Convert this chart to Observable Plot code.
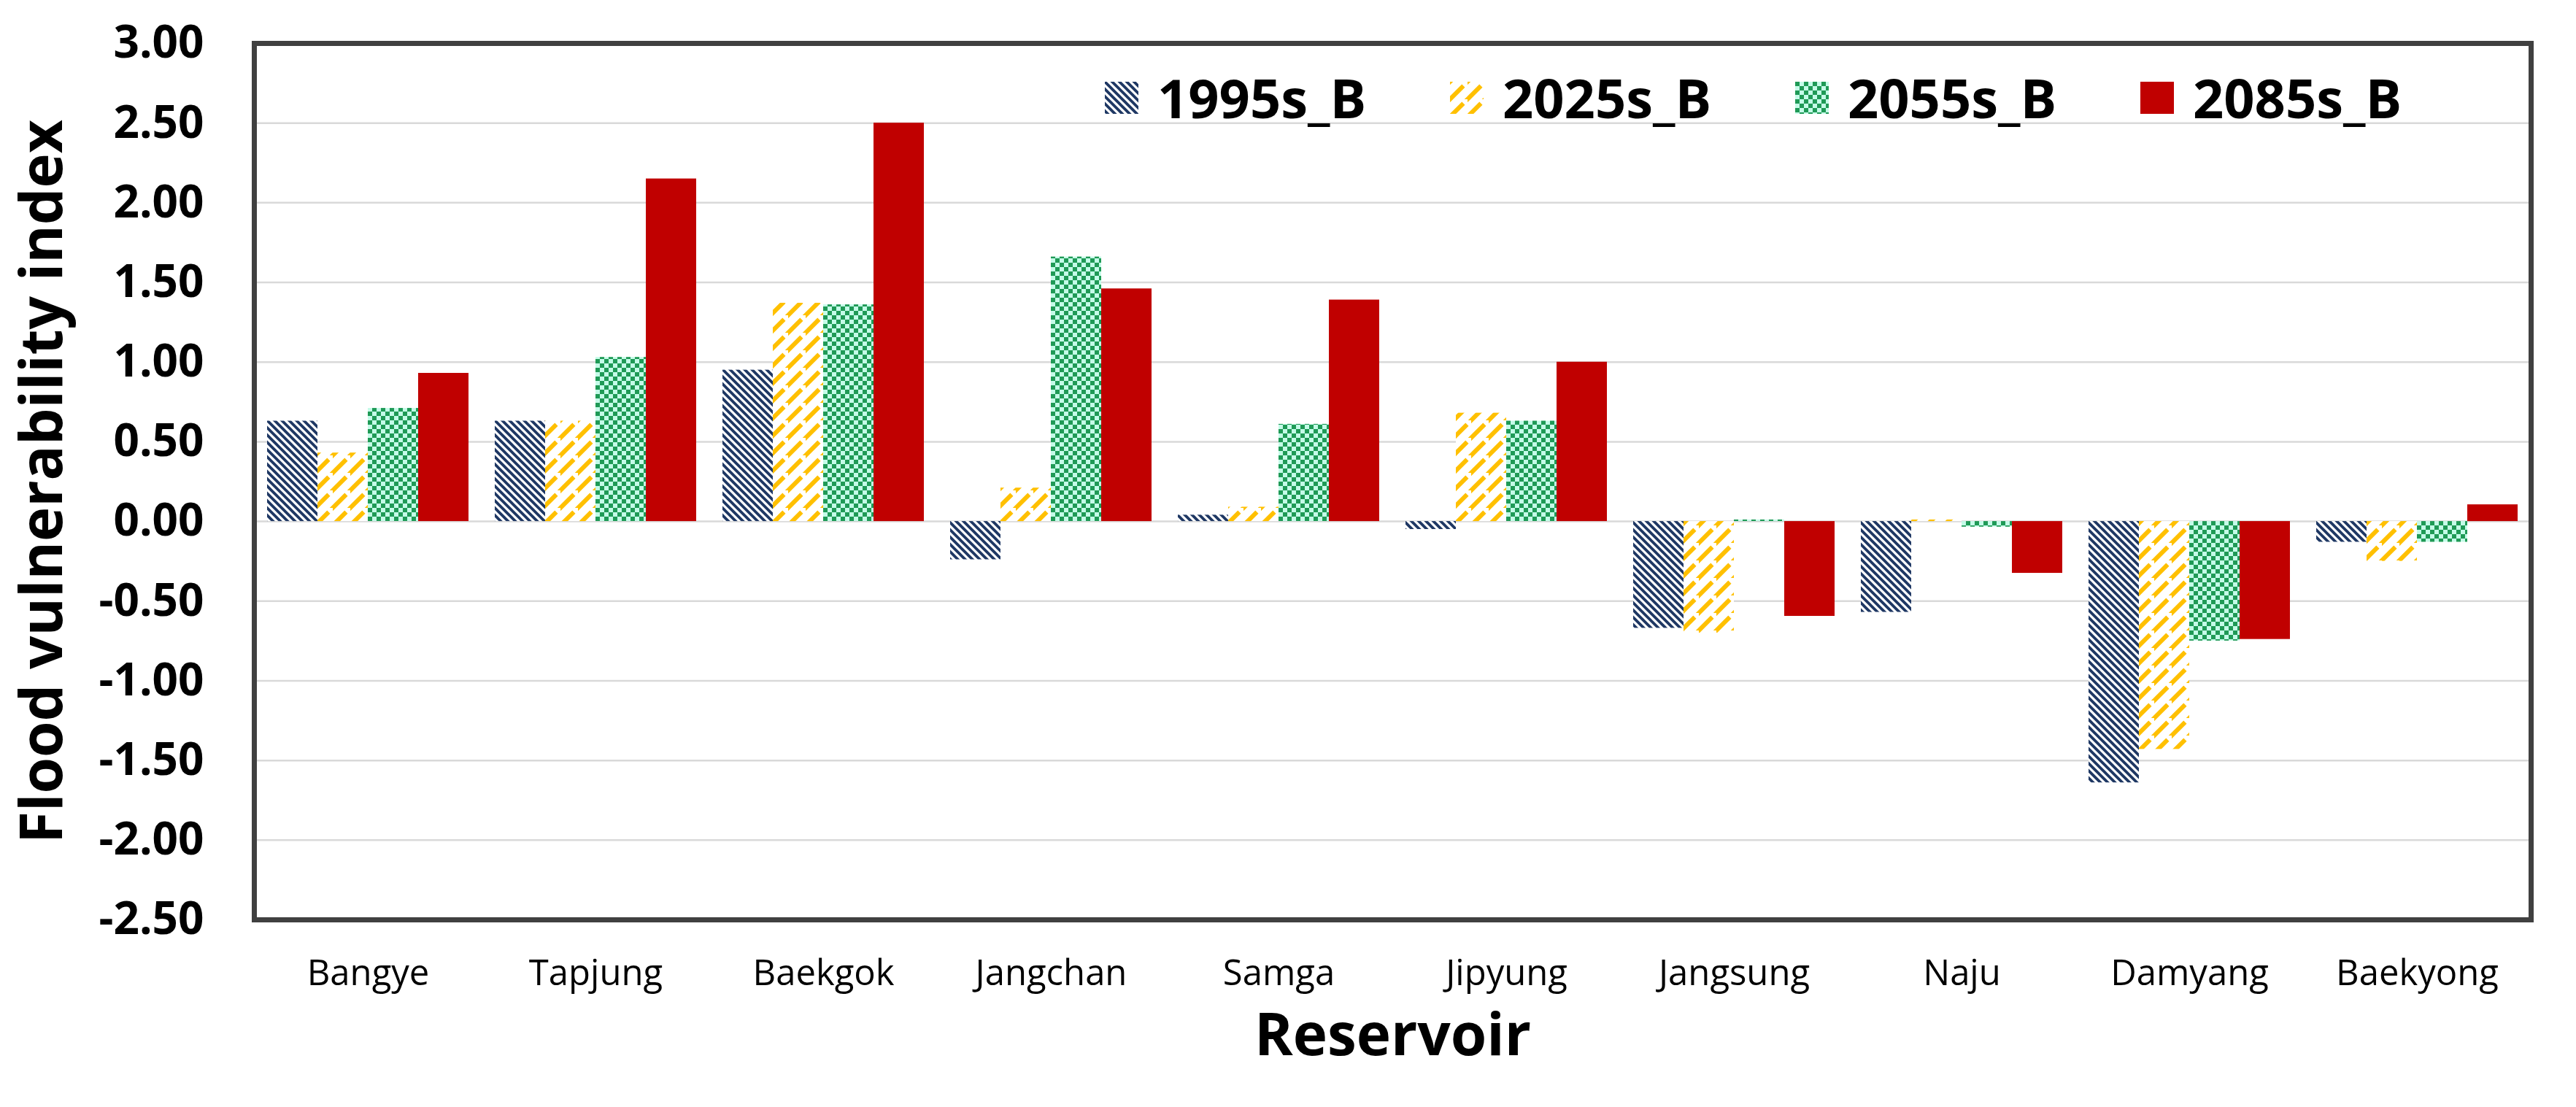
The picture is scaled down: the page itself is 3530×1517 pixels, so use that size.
<!DOCTYPE html>
<html><head><meta charset="utf-8">
<script src="https://cdn.jsdelivr.net/npm/d3@7"></script>
<script src="https://cdn.jsdelivr.net/npm/@observablehq/plot@0.6"></script>
<style>
html,body{margin:0;padding:0;background:#fff;}
#chart{position:relative;width:3530px;height:1517px;font-family:"Open Sans",sans-serif;}
#chart > svg{position:absolute;left:0;top:0;}
#legend{position:absolute;left:1514px;top:100px;display:flex;}
.item{width:473px;display:flex;align-items:center;height:68px;}
.item svg{width:46px;height:44px;margin-right:26px;flex:none;}
.item span{font-weight:700;font-size:74px;line-height:1;color:#000;}
</style></head><body>
<svg width="0" height="0" style="position:absolute">
  <defs>
    <pattern id="p1995" patternUnits="userSpaceOnUse" width="10" height="10">
      <rect width="10" height="10" fill="#ffffff"/>
      <path d="M0,0L10,10M-5,5L5,15M5,-5L15,5" stroke="#1f3864" stroke-width="3.8" fill="none"/>
    </pattern>
    <pattern id="p2025" patternUnits="userSpaceOnUse" width="24" height="24">
      <rect width="24" height="24" fill="#ffffff"/>
      <path d="M0,24L24,0M-6,6L6,-6M18,30L30,18" stroke="#ffc000" stroke-width="6" stroke-dasharray="26 8" fill="none"/>
    </pattern>
    <pattern id="p2055" patternUnits="userSpaceOnUse" width="12" height="12">
      <rect width="12" height="12" fill="#c4fbe8"/>
      <rect x="0" y="0" width="6" height="6" fill="#1f9a56"/>
      <rect x="6" y="6" width="6" height="6" fill="#1f9a56"/>
    </pattern>
  </defs>
</svg>
<div id="chart"></div>
<script>
const reservoirs = ["Bangye","Tapjung","Baekgok","Jangchan","Samga","Jipyung","Jangsung","Naju","Damyang","Baekyong"];
const seriesNames = ["1995s_B","2025s_B","2055s_B","2085s_B"];
const v1995 = [0.63, 0.63, 0.95, -0.24, 0.04, -0.05, -0.67, -0.57, -1.64, -0.13];
const v2025 = [0.43, 0.63, 1.37, 0.21, 0.09, 0.68, -0.70, 0.01, -1.43, -0.25];
const v2055 = [0.71, 1.03, 1.36, 1.66, 0.61, 0.63, 0.01, -0.035, -0.75, -0.13];
const v2085 = [0.93, 2.15, 2.50, 1.46, 1.39, 1.00, -0.595, -0.325, -0.74, 0.105];
const yTicks = [-2.5,-2,-1.5,-1,-0.5,0,0.5,1,1.5,2,2.5,3];
const yTitle = "Flood vulnerability index";
const xTitle = "Reservoir";
const fills = ["url(#p1995)","url(#p2025)","url(#p2055)","#c00000"];

const seriesValues = [v1995, v2025, v2055, v2085];
const data = [];
reservoirs.forEach((r, i) => seriesNames.forEach((s, j) => data.push({reservoir: r, series: s, value: seriesValues[j][i]})));

const W = 3530, H = 1517;
const dims = {width: W, height: H, marginLeft: 348, marginRight: 62, marginTop: 59, marginBottom: 257};

const base = Plot.plot({
  ...dims,
  style: {fontFamily: '"Open Sans", sans-serif', color: "#000", background: "transparent"},
  x: {type: "band", domain: reservoirs, padding: 0, label: null},
  y: {domain: [-2.5, 3], label: null},
  marks: [
    Plot.gridY(yTicks, {stroke: "#d9d9d9", strokeOpacity: 1, strokeWidth: 2.5}),
    Plot.axisY(yTicks, {tickSize: 0, tickPadding: 69, tickFormat: d => d.toFixed(2), fontSize: 62, fontWeight: 700, label: null}),
    Plot.axisX({tickSize: 0, tickPadding: 55, fontSize: 49, label: null}),
    Plot.frame({stroke: "#404040", strokeWidth: 7}),
    Plot.text([yTitle], {text: d => d, frameAnchor: "left", textAnchor: "middle", rotate: -90, dx: -289, fontSize: 80, fontWeight: 700}),
    Plot.text([xTitle], {text: d => d, frameAnchor: "bottom", textAnchor: "middle", dy: 185, fontSize: 80, fontWeight: 700})
  ]
});

const bars = Plot.plot({
  ...dims,
  style: {background: "transparent"},
  fx: {domain: reservoirs, paddingInner: 0, paddingOuter: 0, axis: null, label: null},
  x: {domain: seriesNames, paddingInner: 0, paddingOuter: 0.26, axis: null, label: null},
  y: {domain: [-2.5, 3], axis: null, label: null},
  color: {type: "ordinal", domain: seriesNames, range: fills},
  marks: [
    Plot.barY(data, {fx: "reservoir", x: "series", y: "value", fill: "series"})
  ]
});

const chart = document.getElementById("chart");
chart.appendChild(base);
chart.appendChild(bars);

const legend = document.createElement("div");
legend.id = "legend";
seriesNames.forEach((s, j) => {
  const item = document.createElement("div");
  item.className = "item";
  item.innerHTML = `<svg viewBox="0 0 46 44"><rect width="46" height="44" fill="${fills[j]}"/></svg><span>${s}</span>`;
  legend.appendChild(item);
});
chart.appendChild(legend);
</script>
</body></html>
